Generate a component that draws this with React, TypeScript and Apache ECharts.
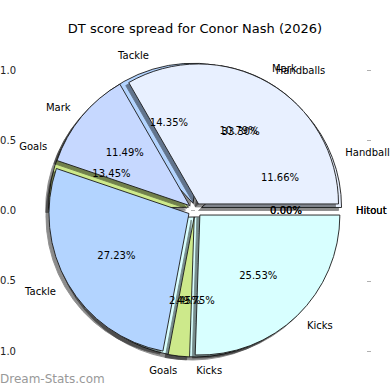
import React, { useEffect, useRef } from "react";
import * as echarts from "echarts";

const titleText = "DT score spread for Conor Nash (2026)";
const categories = ["Hitout", "Handballs", "Mark", "Tackle", "Goals", "Kicks"];
const pieAValues = [0, 11.66, 10.79, 14.35, 13.45, 49.75];
const pieBValues = [0, 33.3, 11.49, 27.23, 2.45, 25.53];
const sliceColors = ["#9a9a9a", "#e8f0ff", "#c6d8ff", "#b3d4ff", "#cde98b", "#d8ffff"];
const yTicks = { min: -1, max: 1, interval: 0.5 };
const watermark = "Dream-Stats.com";

const FONT = "DejaVu Sans";
const CENTER = [195, 210];
const R = 140;
const EXPLODE = 7;

function makeData(values: number[], transparent: boolean) {
  return categories.map((name, i) => ({
    name,
    value: values[i],
    selected: true,
    itemStyle: transparent
      ? { color: "rgba(0,0,0,0)", borderWidth: 0 }
      : { color: sliceColors[i] },
  }));
}

const common = {
  type: "pie",
  silent: true,
  center: CENTER,
  startAngle: 0,
  clockwise: false,
  selectedMode: "multiple",
  selectedOffset: EXPLODE,
  avoidLabelOverlap: false,
  labelLayout: { hideOverlap: false, moveOverlap: null },
  emphasis: { disabled: true },
};

function wedgeSeries(values: number[], z: number) {
  return {
    ...common,
    z,
    radius: [0, R],
    label: { show: false },
    labelLine: { show: false },
    itemStyle: {
      borderColor: "#1a1a1a",
      borderWidth: 0.9,
      shadowColor: "rgba(0,0,0,0.45)",
      shadowBlur: 1,
      shadowOffsetX: -3,
      shadowOffsetY: 3,
    },
    data: makeData(values, false),
  };
}

function pctSeries(values: number[]) {
  return {
    ...common,
    z: 10,
    radius: [0, 162],
    labelLine: { show: false },
    label: {
      show: true,
      position: "inside",
      color: "#000",
      fontFamily: FONT,
      fontSize: 10,
      textBorderWidth: 0,
      formatter: (p: any) => Number(p.percent).toFixed(2) + "%",
    },
    data: makeData(values, true),
  };
}

function nameSeries(values: number[]) {
  return {
    ...common,
    z: 10,
    radius: [0, R],
    labelLine: { show: false, length: 14, length2: 0 },
    label: {
      show: true,
      position: "outside",
      alignTo: "none",
      distanceToLabelLine: 0,
      overflow: "none",
      color: "#000",
      fontFamily: FONT,
      fontSize: 10,
      formatter: "{b}",
    },
    data: makeData(values, true),
  };
}

export default function App() {
  const ref = useRef<HTMLDivElement>(null);
  useEffect(() => {
    if (!ref.current) return;
    const chart = echarts.init(ref.current, undefined, { renderer: "svg" });
    const axisCommon = {
      type: "value",
      min: yTicks.min,
      max: yTicks.max,
      interval: yTicks.interval,
      axisLine: { show: false },
      splitLine: { show: false },
      axisTick: { show: true, length: 4, lineStyle: { color: "#b0b0b0", width: 1 } },
    };
    chart.setOption({
      animation: false,
      backgroundColor: "#ffffff",
      title: {
        text: titleText,
        left: "center",
        top: 17,
        textStyle: { fontFamily: FONT, fontSize: 13, fontWeight: "normal", color: "#000" },
      },
      grid: {
        left: 23,
        right: 23,
        top: 70,
        height: 281,
        containLabel: false,
        outerBoundsMode: "none",
      },
      xAxis: { type: "value", show: false, min: -1, max: 1 },
      yAxis: [
        {
          ...axisCommon,
          position: "left",
          axisLabel: {
            show: true,
            margin: 7,
            fontFamily: FONT,
            fontSize: 10,
            color: "#222",
            formatter: (v: number) => v.toFixed(1).replace("-", "\u2212"),
          },
        },
        {
          ...axisCommon,
          position: "right",
          axisLabel: { show: false },
        },
      ],
      graphic: [
        {
          type: "text",
          left: 0,
          top: 373,
          style: { text: watermark, fontFamily: FONT, fontSize: 12, fill: "#999" },
        },
      ],
      series: [
        wedgeSeries(pieAValues, 2),
        wedgeSeries(pieBValues, 3),
        pctSeries(pieAValues),
        pctSeries(pieBValues),
        nameSeries(pieAValues),
        nameSeries(pieBValues),
      ],
    });
    return () => chart.dispose();
  }, []);
  return (
    <div
      ref={ref}
      style={{ position: "absolute", left: 0, top: 0, width: 390, height: 390 }}
    />
  );
}
